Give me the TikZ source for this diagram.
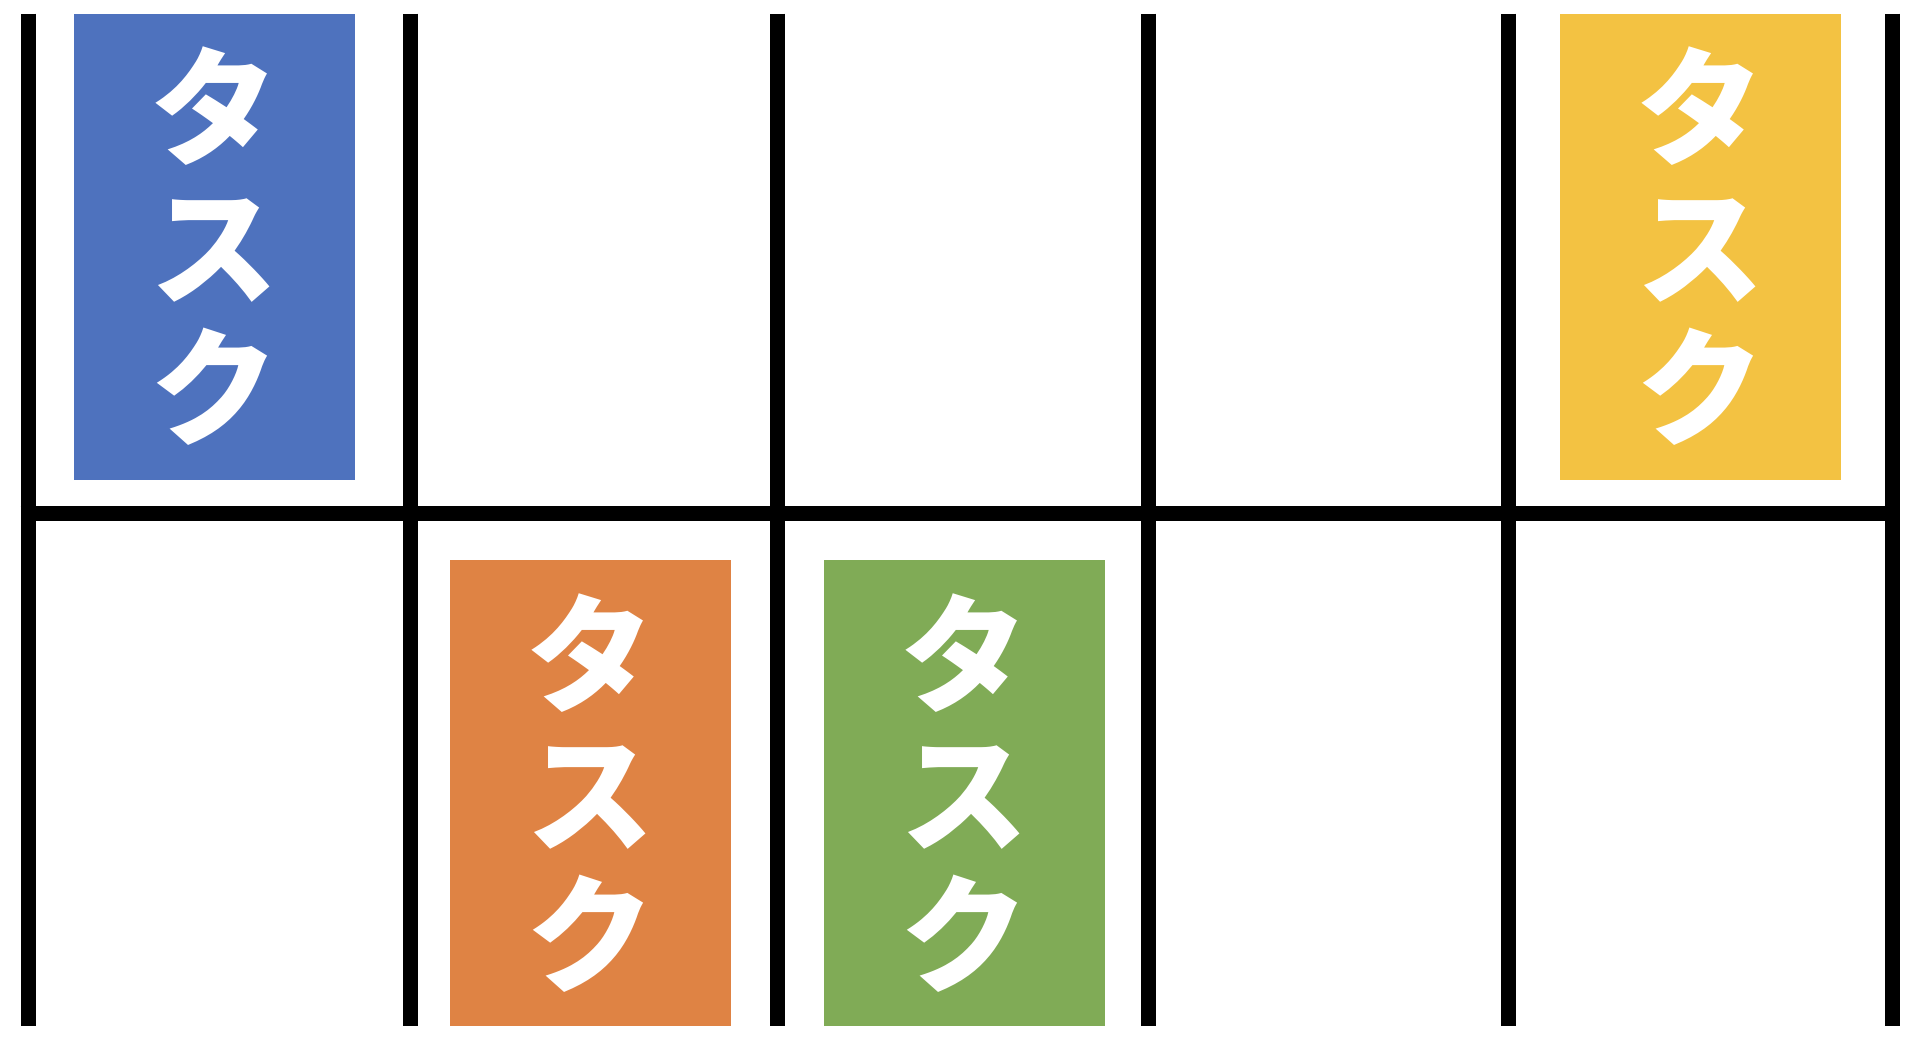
\documentclass[tikz,border=0pt]{standalone}
\usepackage{fontspec}
\newfontfamily\jpfont{Noto Sans CJK JP}
\usepackage{tikz}
\definecolor{taskblue}{HTML}{4E72BE}
\definecolor{taskorange}{HTML}{DF8344}
\definecolor{taskgreen}{HTML}{80AB56}
\definecolor{taskyellow}{HTML}{F3C242}
\tikzset{boardline/.style = {line width = 15}}
\tikzset{task/.style = {fill = #1, text = white, inner sep = 0, minimum width = 281, minimum height = 466, align = center, font = \jpfont\bfseries\fontsize{128}{140}\selectfont}}

\begin{document}
\begin{tikzpicture}[x = 1pt, y = -1pt]
    \useasboundingbox (0, 0) rectangle (1920, 1045);

    \foreach \x in {28.3, 410.5, 777.7, 1148, 1508.3, 1892.5}
      \draw [boardline] (\x, 13.6) -- (\x, 1026);
    \draw [boardline] (20.7, 513.5) -- (1900, 513.5);

    \node [task = taskblue] (blue) at (214, 246.5) {タ\\ス\\ク};
    \node [task = taskyellow] (yellow) at (1700.5, 246.5) {タ\\ス\\ク};
    \node [task = taskorange] (orange) at (590, 793) {タ\\ス\\ク};
    \node [task = taskgreen] (green) at (964, 793) {タ\\ス\\ク};
  \end{tikzpicture}
\end{document}
